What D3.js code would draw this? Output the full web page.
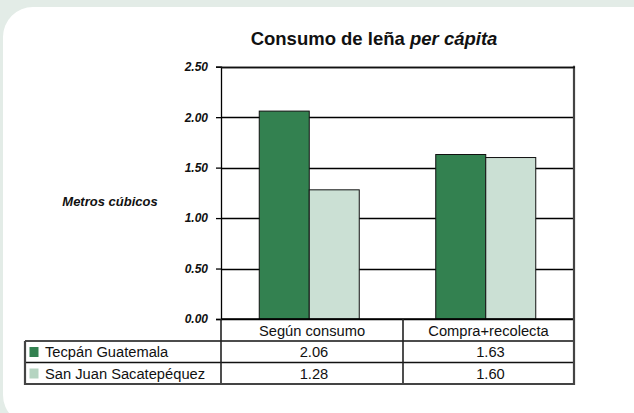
<!DOCTYPE html>
<html>
<head>
<meta charset="utf-8">
<script src="https://cdn.jsdelivr.net/npm/d3@7"></script>
<style>
  html, body { margin: 0; padding: 0; background: #e3ece7; }
  svg { display: block; }
  text { font-family: "Liberation Sans", Arial, Helvetica, sans-serif; }
</style>
</head>
<body>
<svg id="chart" width="634" height="413"></svg>
<script>
const categories = ["Según consumo", "Compra+recolecta"];
const seriesNames = ["Tecpán Guatemala", "San Juan Sacatepéquez"];
const tecpan = [2.06, 1.63];
const sanJuan = [1.28, 1.60];
const yTicks = [0, 0.5, 1.0, 1.5, 2.0, 2.5];
const colors = ["#338150", "#cbe0d4"];
const seriesValues = [tecpan, sanJuan];

const svg = d3.select("#chart");

// panel background
svg.append("rect").attr("x", 3).attr("y", 7).attr("width", 660).attr("height", 418)
  .attr("rx", 30).attr("ry", 30).attr("fill", "#ffffff");

const pLeft = 221, pRight = 574, pTop = 66.7, pBottom = 319;
const rowH = [22, 21.5, 21.5];
const tableLeft = 25;

const x = d3.scaleBand().domain(categories).range([pLeft, pRight]).paddingInner(0).paddingOuter(0);
const xs = d3.scaleBand().domain(seriesNames).range([0, x.bandwidth()]).paddingInner(0).paddingOuter(0.765);
const y = d3.scaleLinear().domain([0, 2.5]).range([pBottom, pTop]);

// title
const title = svg.append("text").attr("x", 374).attr("y", 45).attr("text-anchor", "middle")
  .attr("font-size", 18.5).attr("font-weight", "bold").attr("fill", "#111");
title.append("tspan").text("Consumo de leña ");
title.append("tspan").attr("font-style", "italic").text("per cápita");

// y title
svg.append("text").attr("x", 110).attr("y", 206).attr("text-anchor", "middle")
  .attr("font-size", 13).attr("font-weight", "bold").attr("font-style", "italic")
  .attr("fill", "#111").text("Metros cúbicos");

// gridlines
svg.append("g").selectAll("line").data(yTicks).join("line")
  .attr("x1", pLeft).attr("x2", pRight)
  .attr("y1", d => Math.round(y(d)) + 0.5).attr("y2", d => Math.round(y(d)) + 0.5)
  .attr("stroke", "#000").attr("stroke-width", 1.3);

// bars
const groups = svg.append("g").selectAll("g").data(categories).join("g")
  .attr("transform", d => `translate(${x(d)},0)`);
groups.selectAll("rect").data((c, ci) => seriesNames.map((s, si) => ({ s, si, v: seriesValues[si][ci] })))
  .join("rect")
  .attr("x", d => xs(d.s)).attr("width", xs.bandwidth())
  .attr("y", d => y(d.v)).attr("height", d => pBottom - y(d.v))
  .attr("fill", d => colors[d.si]).attr("stroke", "#111").attr("stroke-width", 1);

// y axis
const yAxis = d3.axisLeft(y).tickValues(yTicks).tickFormat(d3.format(".2f")).tickSize(5).tickPadding(8);
const ga = svg.append("g").attr("transform", `translate(${pLeft},0)`).call(yAxis);
ga.select(".domain").attr("stroke", "#000").attr("stroke-width", 1.3);
ga.selectAll(".tick line").attr("stroke", "#000").attr("stroke-width", 1.3);
ga.selectAll(".tick text").attr("font-size", 12).attr("font-weight", "bold")
  .attr("font-style", "italic").attr("fill", "#111");

// data table
const r0 = pBottom, r1 = r0 + rowH[0], r2 = r1 + rowH[1], r3 = r2 + rowH[2];
const divX = x(categories[1]) + 5.5;
const colEdges = [pLeft, divX, pRight];
const tbl = svg.append("g");

tbl.append("line").attr("x1", pLeft).attr("x2", pRight).attr("y1", r0).attr("y2", r0).attr("stroke", "#000").attr("stroke-width", 1.3);
[r1, r2].forEach(ry => {
  tbl.append("line").attr("x1", tableLeft).attr("x2", pRight).attr("y1", ry).attr("y2", ry)
    .attr("stroke", "#111").attr("stroke-width", 1.6);
});
tbl.append("line").attr("x1", pLeft).attr("x2", pLeft).attr("y1", r0).attr("y2", r3).attr("stroke", "#222").attr("stroke-width", 1.6);
tbl.append("line").attr("x1", divX).attr("x2", divX).attr("y1", r0).attr("y2", r3).attr("stroke", "#222").attr("stroke-width", 1.6);
tbl.append("line").attr("x1", pRight).attr("x2", pRight).attr("y1", pTop - 1).attr("y2", r3 + 1).attr("stroke", "#444").attr("stroke-width", 2.2);
tbl.append("line").attr("x1", tableLeft).attr("x2", tableLeft).attr("y1", r1).attr("y2", r3 + 1).attr("stroke", "#444").attr("stroke-width", 2.2);
tbl.append("line").attr("x1", tableLeft - 1).attr("x2", pRight + 1).attr("y1", r3).attr("y2", r3).attr("stroke", "#444").attr("stroke-width", 2.2);
svg.append("line").attr("x1", pLeft).attr("x2", pRight + 1).attr("y1", Math.round(y(2.5)) + 0.5).attr("y2", Math.round(y(2.5)) + 0.5).attr("stroke", "#111").attr("stroke-width", 1.6);

tbl.selectAll("text.cat").data(categories).join("text").attr("class", "cat")
  .attr("x", (d, i) => (colEdges[i] + colEdges[i + 1]) / 2).attr("y", r1 - 5)
  .attr("text-anchor", "middle").attr("font-size", 14.7).attr("fill", "#111").text(d => d);

const rowsY = [r1, r2];
seriesNames.forEach((s, si) => {
  const ry = rowsY[si];
  tbl.append("rect").attr("x", 29.5).attr("y", ry + 6).attr("width", 9).attr("height", 10)
    .attr("fill", si === 0 ? "#338150" : "#b5d4c1");
  tbl.append("text").attr("x", 45).attr("y", ry + 16).attr("font-size", 14.7).attr("fill", "#111").text(s);
  seriesValues[si].forEach((v, ci) => {
    tbl.append("text").attr("x", (colEdges[ci] + colEdges[ci + 1]) / 2 + 2).attr("y", ry + 16)
      .attr("text-anchor", "middle").attr("font-size", 14.7).attr("fill", "#111").text(d3.format(".2f")(v));
  });
});
</script>
</body>
</html>
